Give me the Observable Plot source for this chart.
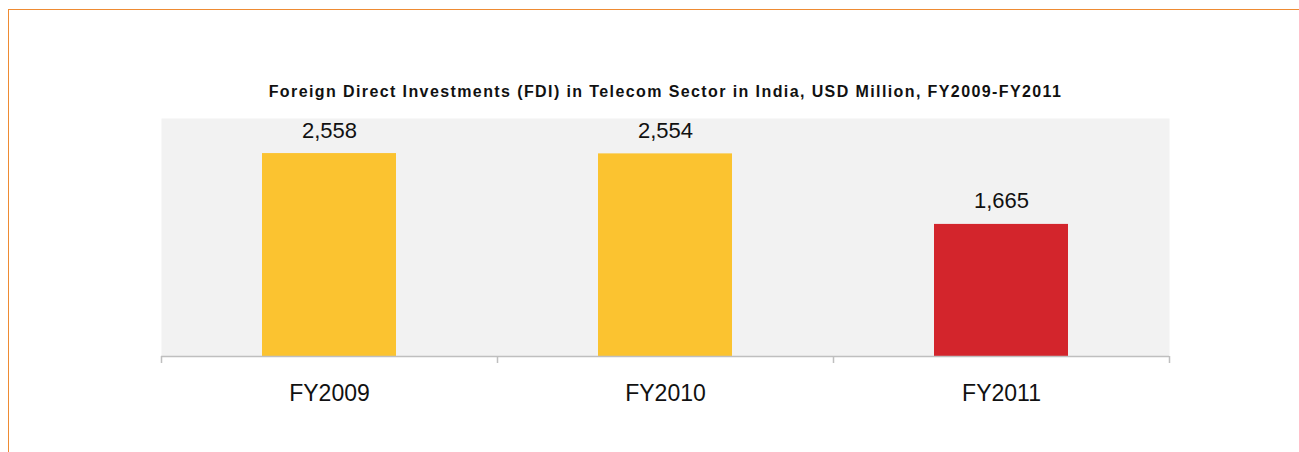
<!DOCTYPE html>
<html>
<head>
<meta charset="utf-8">
<script src="https://cdn.jsdelivr.net/npm/d3@7"></script>
<script src="https://cdn.jsdelivr.net/npm/@observablehq/plot@0.6"></script>
<style>
  html, body { margin: 0; padding: 0; background: #fff; }
  #wrap { position: relative; width: 1299px; height: 452px; overflow: hidden; }
  #border { position: absolute; left: 8px; top: 9px; right: -10px; bottom: -10px;
            border-left: 1px solid #EE8B33; border-top: 1px solid #EE8B33; pointer-events: none; }
  #chart { position: absolute; left: 0; top: 0; }
  #chart g[font-weight="bold"] { letter-spacing: 1.4px; }
</style>
</head>
<body>
<div id="wrap"><div id="chart"></div><div id="border"></div></div>
<script>
const categories = ["FY2009", "FY2010", "FY2011"];
const fdiValues = [2558, 2554, 1665];
const barColors = ["#FBC330", "#FBC330", "#D3252C"];
const titleText = "Foreign Direct Investments (FDI) in Telecom Sector in India, USD Million, FY2009-FY2011";

const data = categories.map((c, i) => ({cat: c, value: fdiValues[i], color: barColors[i]}));
const step = (1299 - 161 - 130) / categories.length;

const chart = Plot.plot({
  width: 1299,
  height: 452,
  marginTop: 118,
  marginBottom: 96,
  marginLeft: 161,
  marginRight: 130,
  style: {fontFamily: "Liberation Sans, Arial, sans-serif", background: "transparent", overflow: "visible"},
  x: {domain: categories, paddingInner: 0.6, paddingOuter: 0.3, axis: null},
  y: {domain: [0, 3000], axis: null},
  marks: [
    Plot.frame({fill: "#F2F2F2", stroke: null}),
    Plot.barY(data, {x: "cat", y: "value", fill: "color"}),
    Plot.ruleY([0], {stroke: "#BFBFBF", strokeWidth: 1.5}),
    Plot.ruleX(categories, {x: d => d, y1: 0, y2: 0, dx: -step / 2, insetTop: 0, insetBottom: -7, stroke: "#BFBFBF", strokeWidth: 1.5}),
    Plot.ruleX(categories.slice(-1), {x: d => d, y1: 0, y2: 0, dx: step / 2, insetTop: 0, insetBottom: -7, stroke: "#BFBFBF", strokeWidth: 1.5}),
    Plot.text(data, {x: "cat", y: "value", text: d => d3.format(",")(d.value), dy: -23, fontSize: 22, fill: "#111"}),
    Plot.text(categories, {x: d => d, y: 0, text: d => d, dy: 37, fontSize: 23, fill: "#111"}),
    Plot.text([titleText], {frameAnchor: "top", text: d => d, dy: -33, fontSize: 16, fontWeight: "bold", fill: "#111"})
  ]
});
document.getElementById("chart").appendChild(chart);
</script>
</body>
</html>
